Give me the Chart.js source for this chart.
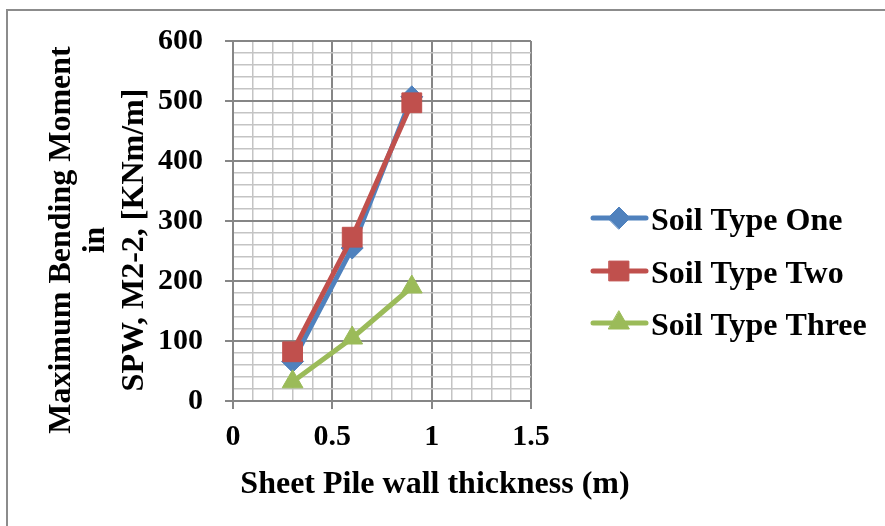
<!DOCTYPE html>
<html>
<head>
<meta charset="utf-8">
<script src="https://cdn.jsdelivr.net/npm/chart.js@4.4.0/dist/chart.umd.min.js"></script>
<style>
  body { margin: 0; background: #fff; }
  #wrap { position: relative; width: 885px; height: 526px; }
</style>
</head>
<body>
<div id="wrap"><canvas id="bmChart"></canvas></div>
<script>
// values
const thickness = [0.3, 0.6, 0.9];
const soilOne = [66, 255, 507];
const soilTwo = [82, 273, 497];
const soilThree = [32, 105, 190];
const seriesNames = ['Soil Type One', 'Soil Type Two', 'Soil Type Three'];
const xTickLabels = ['0', '0.5', '1', '1.5'];
const yTickLabels = ['0', '100', '200', '300', '400', '500', '600'];
const yTitleLines = ['Maximum Bending Moment', 'in', 'SPW, M2-2, [KNm/m]'];
const xTitle = 'Sheet Pile wall thickness (m)';

const FONT = '"Liberation Serif", "Times New Roman", serif';
const BLUE = '#4f81bd', RED = '#c0504d', GREEN = '#9bbb59';
const MAJOR = '#868686', MINOR = '#c4c4c4';

function pts(ys) {
    return thickness.map((x, i) => ({ x: x, y: ys[i] }));
}

function labelFor(list, v) {
    const hit = list.find(l => Math.abs(parseFloat(l) - v) < 1e-6);
    return hit === undefined ? '' : hit;
}

const series = [
    { name: seriesNames[0], data: soilOne, color: BLUE, style: 'rectRot', radius: 11, order: 3 },
    { name: seriesNames[1], data: soilTwo, color: RED, style: 'rect', radius: 14, order: 2 },
    { name: seriesNames[2], data: soilThree, color: GREEN, style: 'triangle', radius: 12, order: 1 }
];

const sets = series.map(s => ({
    label: s.name,
    data: pts(s.data),
    borderColor: s.color,
    backgroundColor: s.color,
    borderWidth: 5,
    pointStyle: s.style,
    pointRadius: s.radius,
    pointBorderWidth: 1,
    tension: 0,
    order: s.order
}));

// frame, axis titles and Excel style legend
const decor = {
    id: 'decor',
    afterDraw: (chart) => {
        const ctx = chart.ctx;
        ctx.save();
        ctx.strokeStyle = '#8c8c8c';
        ctx.lineWidth = 2;
        ctx.beginPath();
        ctx.moveTo(7, 526);
        ctx.lineTo(7, 10);
        ctx.lineTo(885, 10);
        ctx.stroke();

        ctx.fillStyle = '#000';
        ctx.font = 'bold 32px ' + FONT;
        ctx.textAlign = 'center';
        ctx.textBaseline = 'alphabetic';
        ctx.fillText(xTitle, 435, 493);

        const base = [70, 104, 143];
        yTitleLines.forEach((line, i) => {
            ctx.save();
            ctx.translate(base[i], 240);
            ctx.rotate(-Math.PI / 2);
            ctx.fillText(line, 0, 0);
            ctx.restore();
        });

        const rows = [218, 271, 323];
        series.forEach((s, i) => {
            const y = rows[i];
            ctx.strokeStyle = s.color;
            ctx.fillStyle = s.color;
            ctx.lineWidth = 5;
            ctx.lineCap = 'round';
            ctx.beginPath();
            ctx.moveTo(593, y);
            ctx.lineTo(646, y);
            ctx.stroke();
            ctx.lineWidth = 1;
            Chart.helpers.drawPoint(ctx, { pointStyle: s.style, radius: s.radius, rotation: 0, borderWidth: 1 }, 619, y);
            ctx.fillStyle = '#000';
            ctx.textAlign = 'left';
            ctx.fillText(s.name, 651, y + 12);
        });
        ctx.restore();
    }
};

new Chart(document.getElementById('bmChart'), {
    type: 'line',
    data: { datasets: sets },
    options: {
        responsive: true,
        maintainAspectRatio: false,
        animation: false,
        layout: { padding: { left: 0, top: 41, right: 354, bottom: 0 } },
        plugins: {
            legend: { display: false },
            tooltip: { enabled: false }
        },
        scales: {
            x: {
                type: 'linear',
                min: 0,
                max: 1.5,
                afterFit: (scale) => { scale.height = 125; },
                border: { color: MAJOR, width: 2 },
                grid: {
                    color: (c) => labelFor(xTickLabels, c.tick.value) !== '' ? MAJOR : MINOR,
                    lineWidth: (c) => labelFor(xTickLabels, c.tick.value) !== '' ? 2 : 1.5,
                    tickColor: (c) => labelFor(xTickLabels, c.tick.value) !== '' ? MAJOR : 'rgba(0,0,0,0)',
                    tickLength: 8
                },
                ticks: {
                    stepSize: 0.1,
                    autoSkip: false,
                    maxRotation: 0,
                    padding: 10,
                    color: '#000',
                    font: { family: FONT, size: 30, weight: 'bold' },
                    callback: (v) => labelFor(xTickLabels, v)
                }
            },
            y: {
                min: 0,
                max: 600,
                afterFit: (scale) => { scale.width = 233; },
                border: { color: MAJOR, width: 2 },
                grid: {
                    color: (c) => labelFor(yTickLabels, c.tick.value) !== '' ? MAJOR : MINOR,
                    lineWidth: (c) => labelFor(yTickLabels, c.tick.value) !== '' ? 2 : 1.5,
                    tickColor: (c) => labelFor(yTickLabels, c.tick.value) !== '' ? MAJOR : 'rgba(0,0,0,0)',
                    tickLength: 8
                },
                ticks: {
                    stepSize: 20,
                    autoSkip: false,
                    padding: 22,
                    color: '#000',
                    font: { family: FONT, size: 30, weight: 'bold' },
                    callback: (v) => labelFor(yTickLabels, v)
                }
            }
        }
    },
    plugins: [decor]
});
</script>
</body>
</html>
